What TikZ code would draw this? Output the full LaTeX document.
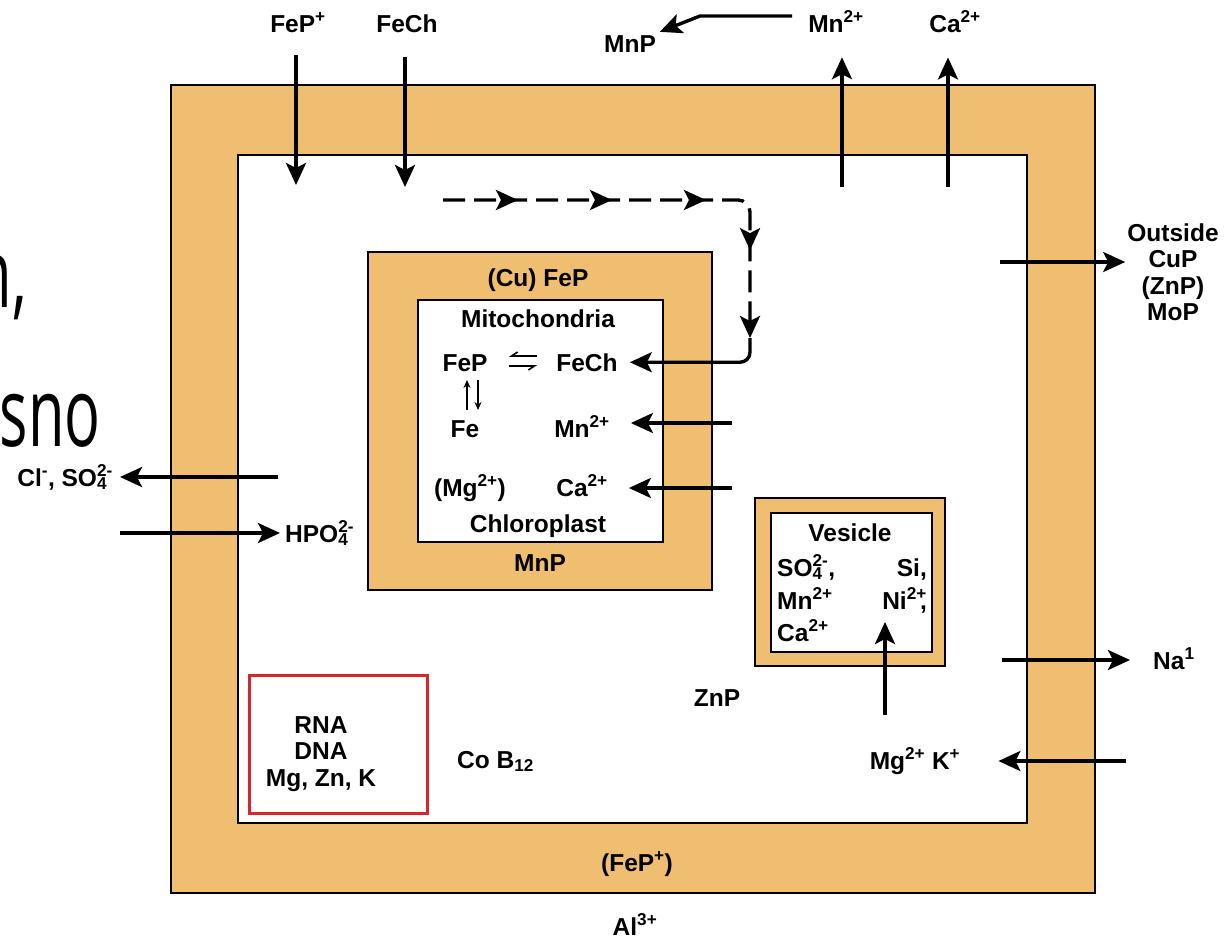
\documentclass[tikz,border=0pt]{standalone}
\usepackage{fontspec}
\setmainfont{Liberation Sans}
\newfontfamily\slidefont{Open Sans}
\usetikzlibrary{arrows.meta, positioning, calc, decorations.markings}
\definecolor{memtan}{RGB}{240,190,112}
\definecolor{boxred}{RGB}{216,36,44}
\newcommand{\lbl}{\fontsize{24.5}{26.5}\selectfont\bfseries}
\newcommand{\stk}[2]{\rlap{\textsubscript{#1}}\textsuperscript{#2}}
\tikzset{
  bighead/.tip={Stealth[length=22pt,width=20pt,inset=5pt]},
  memb/.style={draw, line width=2.4pt, fill=memtan},
  lumen/.style={draw, line width=2.4pt, fill=white},
  lab/.style={font=\lbl, inner sep=2pt},
  flow/.style={-bighead, line width=3.4pt},
  dflow/.style={flow, dash pattern=on 22pt off 9pt, rounded corners=12pt,
    postaction={decorate},
    decoration={markings,
      mark=at position 75pt with {\arrow{bighead}},
      mark=at position 169pt with {\arrow{bighead}},
      mark=at position 263pt with {\arrow{bighead}},
      mark=at position 352pt with {\arrow{bighead}}}},
  tinyarr/.style={-{Stealth[length=8pt,width=7pt]}, line width=1.6pt},
  eqarr/.style={-{Straight Barb[harpoon,swap,length=6pt,width=8pt]}, line width=1.6pt},
  bigtxt/.style={font=\slidefont\fontsize{96}{110}\selectfont, inner sep=0pt}
}

\begin{document}
\begin{tikzpicture}[x=1pt, y=-1pt]
  \useasboundingbox (0,0) rectangle (1224,940);

  % cell wall and compartments
  \draw[memb] (171,85) rectangle (1095,893);
  \draw[lumen] (238,155) rectangle (1027,823);
  \draw[memb] (368,252) rectangle (712,590);
  \draw[lumen] (418,300) rectangle (663,542);
  \draw[memb] (755,498) rectangle (945,666);
  \draw[lumen] (771,513) rectangle (932,652);
  \draw[boxred, line width=3pt] (249,675) rectangle (427,813);

  % slide fragments
  \node[bigtxt, anchor=base east] (frag1) at (27,307) {\scalebox{0.62}[1]{n,}};
  \node[bigtxt, anchor=base east] (frag2) at (101,446) {\scalebox{0.62}[1]{sno}};

  % outside
  \node[lab, anchor=base] (fepo) at (298,32) {FeP\textsuperscript{+}};
  \node[lab, anchor=base] (fecho) at (407,32) {FeCh};
  \node[lab, anchor=base] (mnp0) at (630,52) {MnP};
  \node[lab, anchor=base] (mno) at (836,32) {Mn\textsuperscript{2+}};
  \node[lab, anchor=base] (cao) at (955,32) {Ca\textsuperscript{2+}};
  \node[lab, align=center] (outside) at (1173,272) {Outside\\CuP\\(ZnP)\\MoP};
  \node[lab, anchor=base east] (cl) at (115,486) {Cl\textsuperscript{-}, SO\stk{4}{2-}};
  \node[lab, anchor=base west] (hpo) at (283,542) {HPO\stk{4}{2-}};
  \node[lab, anchor=base west] (na) at (1151,669) {Na\textsuperscript{1}};
  \node[lab, anchor=base] (fepm) at (637,871) {(FeP\textsuperscript{+})};
  \node[lab, anchor=base] (al) at (635,935) {Al\textsuperscript{3+}};

  % mitochondria / chloroplast
  \node[lab, anchor=base] (cufep) at (538,286) {(Cu) FeP};
  \node[lab, anchor=base] (mito) at (538,327) {Mitochondria};
  \node[lab, anchor=base] (fep) at (465,371) {FeP};
  \node[lab, anchor=base] (fech) at (587,371) {FeCh};
  \node[lab, anchor=base] (fe) at (465,437) {Fe};
  \node[lab, anchor=base] (mnm) at (582,437) {Mn\textsuperscript{2+}};
  \node[lab, anchor=base] (mgm) at (470,496) {(Mg\textsuperscript{2+})};
  \node[lab, anchor=base] (cam) at (582,496) {Ca\textsuperscript{2+}};
  \node[lab, anchor=base] (chloro) at (538,532) {Chloroplast};
  \node[lab, anchor=base] (mnpo) at (540,571) {MnP};

  % vesicle
  \node[lab, anchor=base] (ves) at (850,541) {Vesicle};
  \node[lab, anchor=base west] (vso) at (775,576) {SO\stk{4}{2-},};
  \node[lab, anchor=base west] (vmn) at (775,609) {Mn\textsuperscript{2+}};
  \node[lab, anchor=base west] (vca) at (775,641) {Ca\textsuperscript{2+}};
  \node[lab, anchor=base east] (vsi) at (929,576) {Si,};
  \node[lab, anchor=base east] (vni) at (929,609) {Ni\textsuperscript{2+}\llap{,}};

  % cytoplasm
  \node[lab, anchor=base] (znp) at (717,706) {ZnP};
  \node[lab, anchor=base] (mgk) at (915,769) {Mg\textsuperscript{2+} K\textsuperscript{+}};
  \node[lab, align=center] (nucl) at (321,754) {RNA\\DNA\\Mg, Zn, K};
  \node[lab, anchor=base west] (cob) at (455,768) {Co B\textsubscript{12}};

  % arrow ends
  \coordinate (fepin) at (296,185);
  \coordinate (fechin) at (405,187);
  \coordinate (mnpa) at (792,16);
  \coordinate (mnpb) at (700,16);
  \coordinate (mnout) at (842,187);
  \coordinate (caout) at (948,187);
  \coordinate (outs) at (1000,262);
  \coordinate (clin) at (278,477);
  \coordinate (hpin) at (120,533);
  \coordinate (dstart) at (443,200);
  \coordinate (dturn) at (750,200);
  \coordinate (dend) at (750,338);
  \coordinate (mnmin) at (732,423);
  \coordinate (camin) at (732,488);
  \coordinate (vesin) at (885,715);
  \coordinate (naout) at (1002,660);
  \coordinate (mgin) at (1126,761);

  % transport
  \draw[flow, shorten <=21pt] (fepo.south -| fepin) -- (fepin);
  \draw[flow, shorten <=23pt] (fecho.south -| fechin) -- (fechin);
  \draw[flow, shorten >=3pt] (mnpa) -- (mnpb) -- (mnp0);
  \draw[flow, shorten >=23pt] (mnout) -- (mnout |- mno.south);
  \draw[flow, shorten >=23pt] (caout) -- (caout |- cao.south);
  \draw[flow] (outs) -- (outs -| outside.west);
  \draw[flow, shorten >=5pt] (clin) -- (clin -| cl.east);
  \draw[flow, shorten >=3pt] (hpin) -- (hpin -| hpo.west);
  \draw[dflow] (dstart) -- (dturn) -- (dend);
  \draw[flow, rounded corners=10pt, shorten >=10pt] (dend) |- (fech.east);
  \draw[flow, shorten >=19pt] (mnmin) -- (mnmin -| mnm.east);
  \draw[flow, shorten >=19pt] (camin) -- (camin -| cam.east);
  \draw[flow, shorten >=7pt] (vesin) -- (vesin |- vni.south);
  \draw[flow, shorten >=21pt] (naout) -- (naout -| na.west);
  \draw[flow, shorten >=36pt] (mgin) -- (mgin -| mgk.east);

  % exchange inside mitochondria
  \coordinate (eqa) at (537,356);
  \coordinate (eqb) at (509,356);
  \coordinate (eqc) at (509,366);
  \coordinate (eqd) at (537,366);
  \draw[eqarr] (eqa) -- (eqb);
  \draw[eqarr] (eqc) -- (eqd);
  \coordinate (upa) at (467,410);
  \coordinate (upb) at (467,380);
  \coordinate (dna) at (478,380);
  \coordinate (dnb) at (478,410);
  \draw[tinyarr] (upa) -- (upb);
  \draw[tinyarr] (dna) -- (dnb);
\end{tikzpicture}
\end{document}
